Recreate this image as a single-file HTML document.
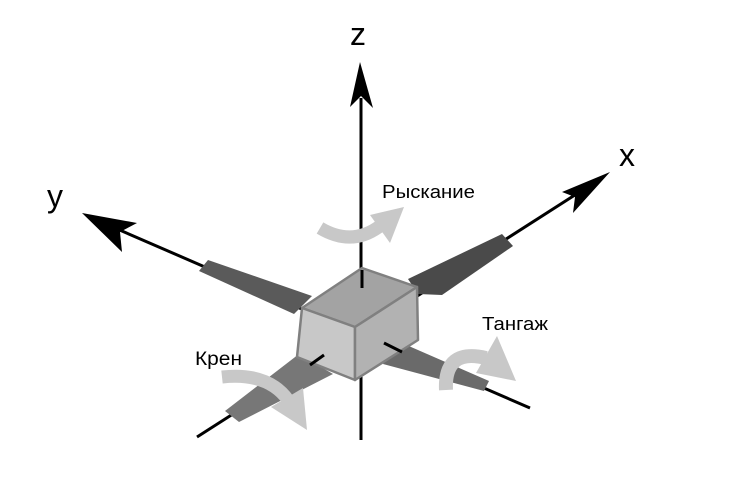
<!DOCTYPE html>
<html><head><meta charset="utf-8"><style>
html,body{margin:0;padding:0;background:#fff;}
svg{display:block;}
text{font-family:"Liberation Sans",sans-serif;fill:#000;}
</style></head><body>
<svg width="747" height="484" viewBox="0 0 747 484">
  <g stroke="#000" stroke-width="3" fill="none">
    <line x1="361" y1="440" x2="361" y2="98"/>
    <line x1="530" y1="408" x2="115" y2="228"/>
    <line x1="197" y1="437" x2="578" y2="193"/>
  </g>
  <polygon points="360,62 373,108 361,96 350,107" fill="#000"/>
  <polygon points="82,213 137,223 120,232 122,252" fill="#000"/>
  <polygon points="610,172 573,213 575,197 562,192" fill="#000"/>

  <polygon points="208,260 312,296 294,314 199,271" fill="#5a5a5a"/>
  <polygon points="408,279 502,234 513,246 442,295 418,294" fill="#4a4a4a"/>
  <polygon points="225,411 239,422 333,374 299,354" fill="#777"/>
  <polygon points="395,340 489,381 484,391 383,364" fill="#6a6a6a"/>

  <g stroke="#808080" stroke-width="2.5" stroke-linejoin="round">
    <polygon points="302,308 362,268 417,287 355,327" fill="#a3a3a3"/>
    <polygon points="302,308 355,327 355,380 297,357" fill="#c8c8c8"/>
    <polygon points="355,327 417,287 418,340 355,380" fill="#b2b2b2"/>
  </g>
  <g stroke="#000" stroke-width="3">
    <line x1="362" y1="270" x2="362" y2="288"/>
    <line x1="310" y1="365" x2="324" y2="355"/>
    <line x1="384" y1="343" x2="402" y2="352"/>
  </g>

  <g fill="#c8c8c8">
    <path d="M320,228 Q352,247 380,226" stroke="#c8c8c8" stroke-width="13" fill="none"/>
    <polygon points="370,215 404,207 390,243"/>
  </g>
  <g fill="#c8c8c8">
    <path d="M222,377 Q268,372 288,400" stroke="#c8c8c8" stroke-width="13" fill="none"/>
    <polygon points="271,407 303,388 307,430"/>
  </g>
  <g fill="#c8c8c8">
    <path d="M446,390 Q444,348 486,358" stroke="#c8c8c8" stroke-width="14" fill="none"/>
    <polygon points="497,336 516,381 476,373"/>
  </g>

  <text x="350" y="45" font-size="32">z</text>
  <text x="47" y="207" font-size="32">y</text>
  <text x="619" y="166" font-size="32">x</text>
  <text x="382" y="198" font-size="18" textLength="93" lengthAdjust="spacingAndGlyphs">Рыскание</text>
  <text x="482" y="330" font-size="18" textLength="66" lengthAdjust="spacingAndGlyphs">Тангаж</text>
  <text x="195" y="365" font-size="19" textLength="47" lengthAdjust="spacingAndGlyphs">Крен</text>
</svg>
</body></html>
